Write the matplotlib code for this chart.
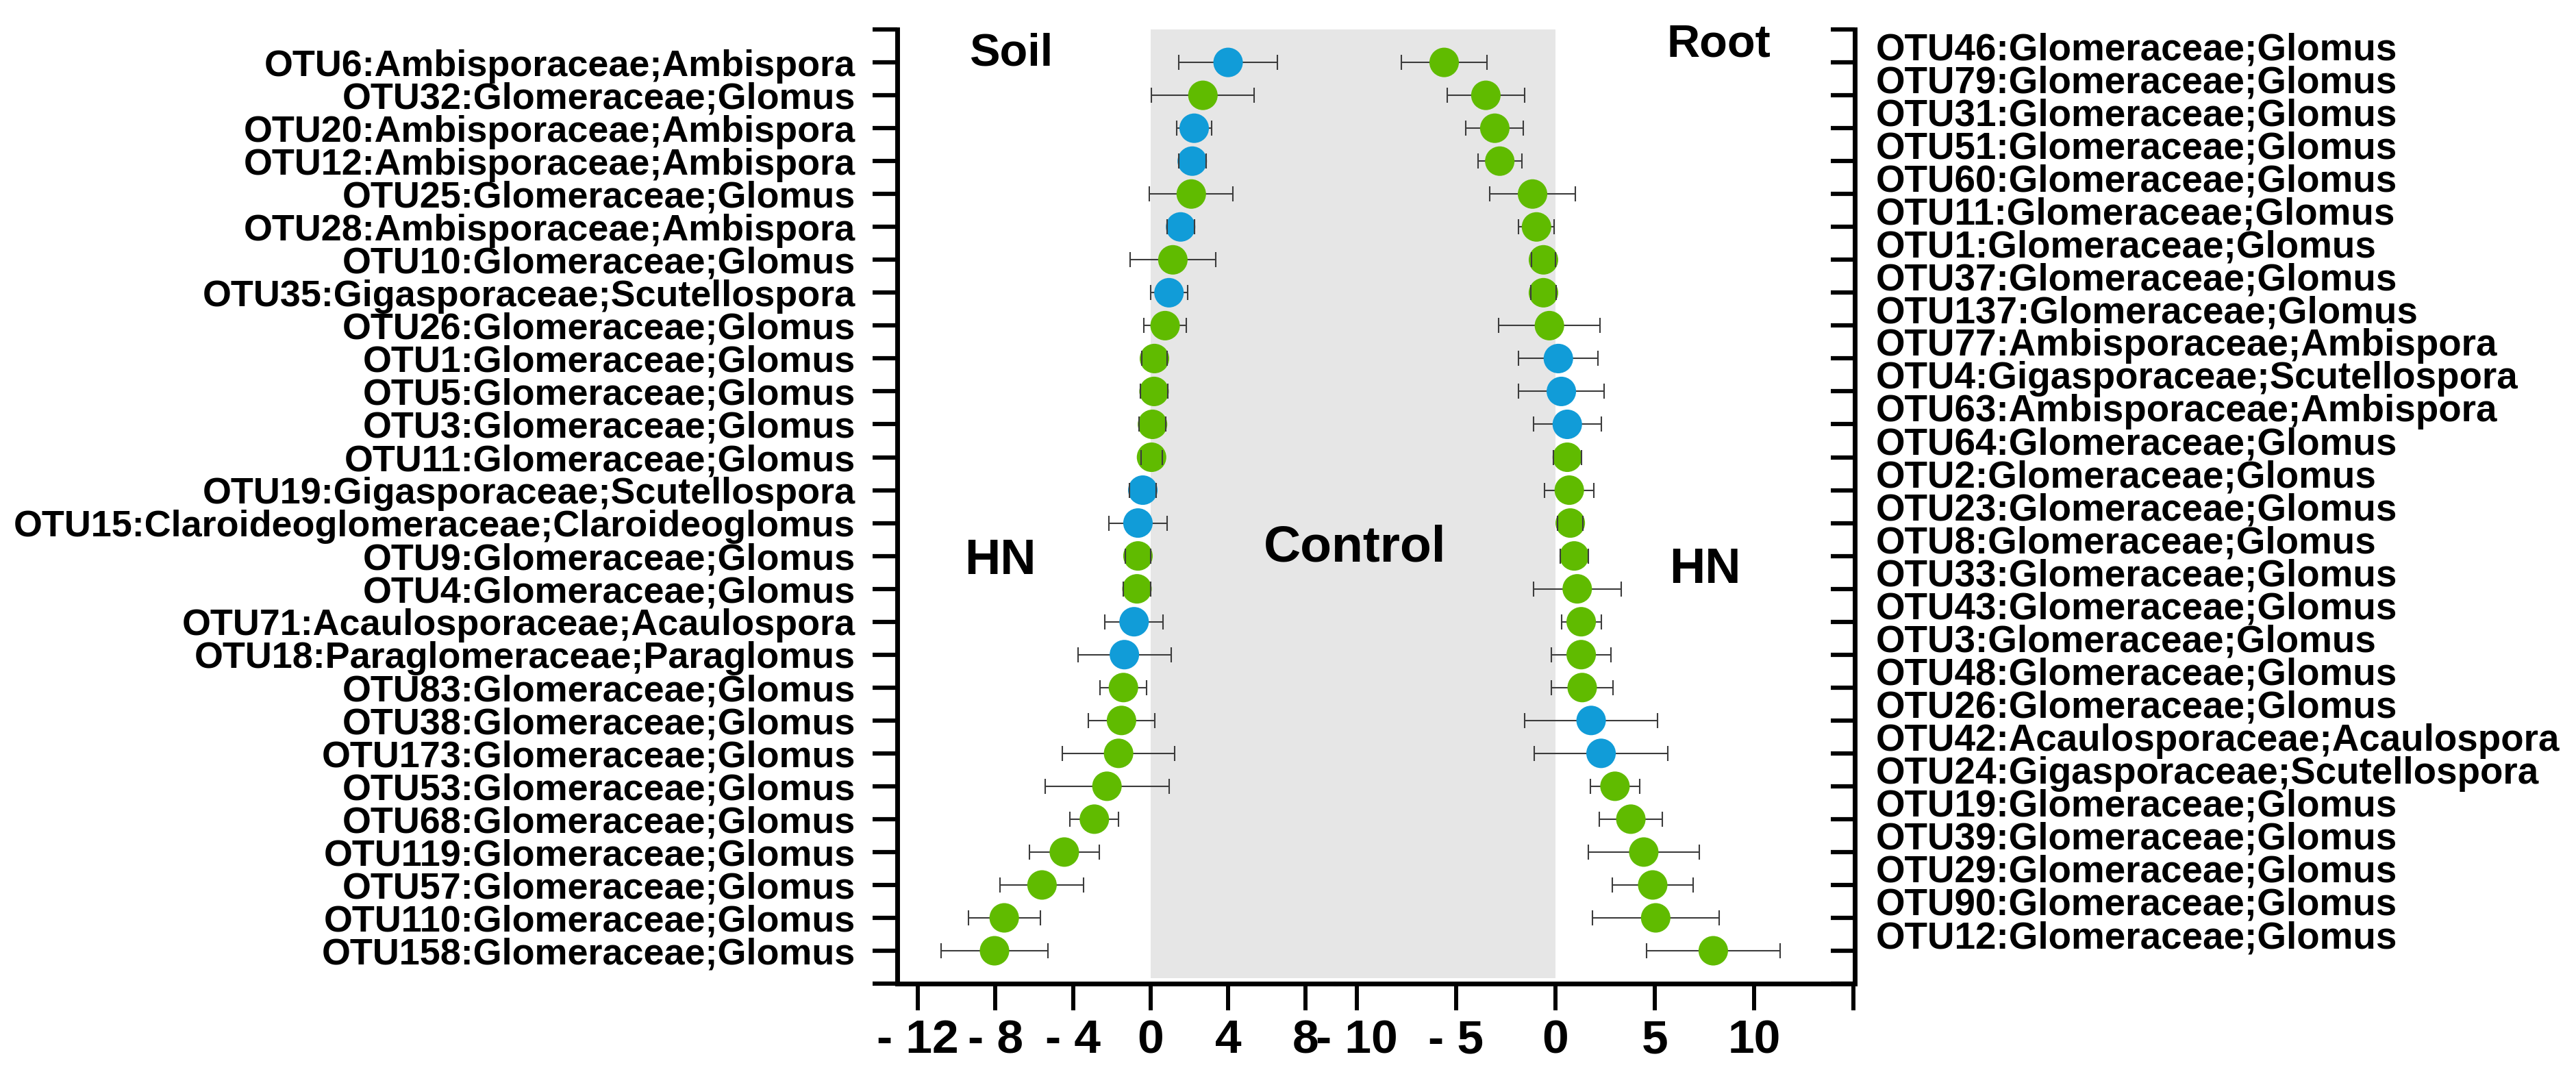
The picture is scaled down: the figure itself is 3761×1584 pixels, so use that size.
import numpy as np
import matplotlib.pyplot as plt

plt.rcParams['font.family'] = ['Liberation Sans', 'DejaVu Sans']
plt.rcParams['font.weight'] = 'bold'

#%% data (rows listed top to bottom)

soil_labels = ['OTU6:Ambisporaceae;Ambispora', 'OTU32:Glomeraceae;Glomus',
               'OTU20:Ambisporaceae;Ambispora', 'OTU12:Ambisporaceae;Ambispora',
               'OTU25:Glomeraceae;Glomus', 'OTU28:Ambisporaceae;Ambispora',
               'OTU10:Glomeraceae;Glomus', 'OTU35:Gigasporaceae;Scutellospora',
               'OTU26:Glomeraceae;Glomus', 'OTU1:Glomeraceae;Glomus',
               'OTU5:Glomeraceae;Glomus', 'OTU3:Glomeraceae;Glomus',
               'OTU11:Glomeraceae;Glomus', 'OTU19:Gigasporaceae;Scutellospora',
               'OTU15:Claroideoglomeraceae;Claroideoglomus', 'OTU9:Glomeraceae;Glomus',
               'OTU4:Glomeraceae;Glomus', 'OTU71:Acaulosporaceae;Acaulospora',
               'OTU18:Paraglomeraceae;Paraglomus', 'OTU83:Glomeraceae;Glomus',
               'OTU38:Glomeraceae;Glomus', 'OTU173:Glomeraceae;Glomus',
               'OTU53:Glomeraceae;Glomus', 'OTU68:Glomeraceae;Glomus',
               'OTU119:Glomeraceae;Glomus', 'OTU57:Glomeraceae;Glomus',
               'OTU110:Glomeraceae;Glomus', 'OTU158:Glomeraceae;Glomus']
soil_lfc = [4.0, 2.7, 2.25, 2.15, 2.1, 1.55, 1.15, 0.95, 0.75, 0.2, 0.18, 0.1, 0.05, -0.4,
            -0.65, -0.65, -0.7, -0.85, -1.35, -1.4, -1.5, -1.65, -2.25, -2.9, -4.45, -5.6,
            -7.55, -8.05]
soil_se = [2.55, 2.65, 0.9, 0.7, 2.15, 0.7, 2.2, 0.95, 1.1, 0.65, 0.7, 0.7, 0.55, 0.7,
           1.5, 0.65, 0.7, 1.5, 2.4, 1.2, 1.7, 2.9, 3.2, 1.25, 1.8, 2.15, 1.85, 2.75]
# 'o' = other families (blue), 'g' = Glomeraceae (green)
soil_grp = ['o', 'g', 'o', 'o', 'g', 'o', 'g', 'o', 'g', 'g', 'g', 'g', 'g', 'o',
            'o', 'g', 'g', 'o', 'o', 'g', 'g', 'g', 'g', 'g', 'g', 'g', 'g', 'g']

root_labels = ['OTU46:Glomeraceae;Glomus', 'OTU79:Glomeraceae;Glomus',
               'OTU31:Glomeraceae;Glomus', 'OTU51:Glomeraceae;Glomus',
               'OTU60:Glomeraceae;Glomus', 'OTU11:Glomeraceae;Glomus',
               'OTU1:Glomeraceae;Glomus', 'OTU37:Glomeraceae;Glomus',
               'OTU137:Glomeraceae;Glomus', 'OTU77:Ambisporaceae;Ambispora',
               'OTU4:Gigasporaceae;Scutellospora', 'OTU63:Ambisporaceae;Ambispora',
               'OTU64:Glomeraceae;Glomus', 'OTU2:Glomeraceae;Glomus',
               'OTU23:Glomeraceae;Glomus', 'OTU8:Glomeraceae;Glomus',
               'OTU33:Glomeraceae;Glomus', 'OTU43:Glomeraceae;Glomus',
               'OTU3:Glomeraceae;Glomus', 'OTU48:Glomeraceae;Glomus',
               'OTU26:Glomeraceae;Glomus', 'OTU42:Acaulosporaceae;Acaulospora',
               'OTU24:Gigasporaceae;Scutellospora', 'OTU19:Glomeraceae;Glomus',
               'OTU39:Glomeraceae;Glomus', 'OTU29:Glomeraceae;Glomus',
               'OTU90:Glomeraceae;Glomus', 'OTU12:Glomeraceae;Glomus']
root_lfc = [-5.6, -3.5, -3.05, -2.8, -1.15, -0.95, -0.6, -0.6, -0.3, 0.15, 0.3, 0.6, 0.6,
            0.7, 0.75, 0.95, 1.1, 1.3, 1.3, 1.35, 1.8, 2.3, 3.0, 3.8, 4.45, 4.9, 5.05, 7.95]
root_se = [2.15, 1.95, 1.45, 1.1, 2.15, 0.9, 0.6, 0.65, 2.55, 2.0, 2.15, 1.7, 0.7, 1.25,
           0.65, 0.7, 2.2, 1.0, 1.5, 1.55, 3.35, 3.35, 1.25, 1.6, 2.8, 2.05, 3.2, 3.35]
root_grp = ['g', 'g', 'g', 'g', 'g', 'g', 'g', 'g', 'g', 'o', 'o', 'o', 'g', 'g',
            'g', 'g', 'g', 'g', 'g', 'g', 'o', 'o', 'g', 'g', 'g', 'g', 'g', 'g']

soil_ticks = [-12, -8, -4, 0, 4, 8]
soil_ticklabels = ['- 12', '- 8', '- 4', '0', '4', '8']
root_ticks = [-10, -5, 0, 5, 10, 15]
root_ticklabels = ['- 10', '- 5', '0', '5', '10', '']

BLUE = '#119cd8'
GREEN = '#60bb00'
SHADE = '#e6e6e6'

#%% plotting

def draw_points(ax, vals, errs, grp):
    y = np.arange(len(vals), 0, -1)
    cols = [BLUE if g == 'o' else GREEN for g in grp]
    eb = ax.errorbar(vals, y, xerr=errs, fmt='none', ecolor='#3c3c3c',
                     elinewidth=1.5, capsize=8, capthick=1.5, zorder=2)
    for cap in eb[1]:
        cap.set_zorder(4)
    ax.scatter(vals, y, s=31 ** 2, c=cols, linewidths=0, zorder=3)


fig = plt.figure(figsize=(37.62, 15.84), dpi=100)
ax1 = fig.add_axes([0.3482, 0.0934, 0.1701, 0.8794])
ax2 = fig.add_axes([0.5183, 0.0934, 0.2015, 0.8794])

n = len(soil_labels)
for ax in (ax1, ax2):
    ax.set_ylim(0, n + 1)
    ax.spines['top'].set_visible(False)
    for s in ax.spines.values():
        s.set_linewidth(5)
    ax.tick_params(axis='x', direction='out', length=28, width=4.3, pad=9, labelsize=50)

ax1.set_xlim(-13.07, 9.54)
ax2.set_xlim(-11.07, 15.07)
ax1.spines['right'].set_visible(False)
ax2.spines['left'].set_visible(False)

# grey "control" band between the two zero lines
ax1.axvspan(0, ax1.get_xlim()[1], ymin=0.006, ymax=1, color=SHADE, lw=0, zorder=0)
ax2.axvspan(ax2.get_xlim()[0], 0, ymin=0.006, ymax=1, color=SHADE, lw=0, zorder=0)

draw_points(ax1, soil_lfc, soil_se, soil_grp)
draw_points(ax2, root_lfc, root_se, root_grp)

ax1.set_xticks(soil_ticks, labels=soil_ticklabels)
ax2.set_xticks(root_ticks, labels=root_ticklabels)

# left axis: labels on the rows
ax1.set_yticks(np.arange(0, n + 2), labels=[''] + soil_labels[::-1] + [''])
ax1.tick_params(axis='y', direction='out', length=26, width=4.5, pad=18, labelsize=38.8)

# right axis: tick marks on the rows, labels sit half a row higher
ax2.yaxis.tick_right()
ax2.set_yticks(np.arange(0, n + 2))
ax2.set_yticks(np.arange(1, n + 1) + 0.5, labels=root_labels[::-1], minor=True)
ax2.tick_params(axis='y', which='major', direction='in', length=25, width=4.5,
                labelright=False)
ax2.tick_params(axis='y', which='minor', length=0, pad=22, labelsize=39.4)

ax1.text(-7.2, 28.27, 'Soil', fontsize=48, ha='center', va='center')
ax1.text(-7.77, 12.85, 'HN', fontsize=52, ha='center', va='center')
ax2.text(-10.1, 13.24, 'Control', fontsize=54, ha='center', va='center')
ax2.text(8.24, 28.54, 'Root', fontsize=48, ha='center', va='center')
ax2.text(7.55, 12.58, 'HN', fontsize=52, ha='center', va='center')

fig.savefig('out.png', dpi=100)
